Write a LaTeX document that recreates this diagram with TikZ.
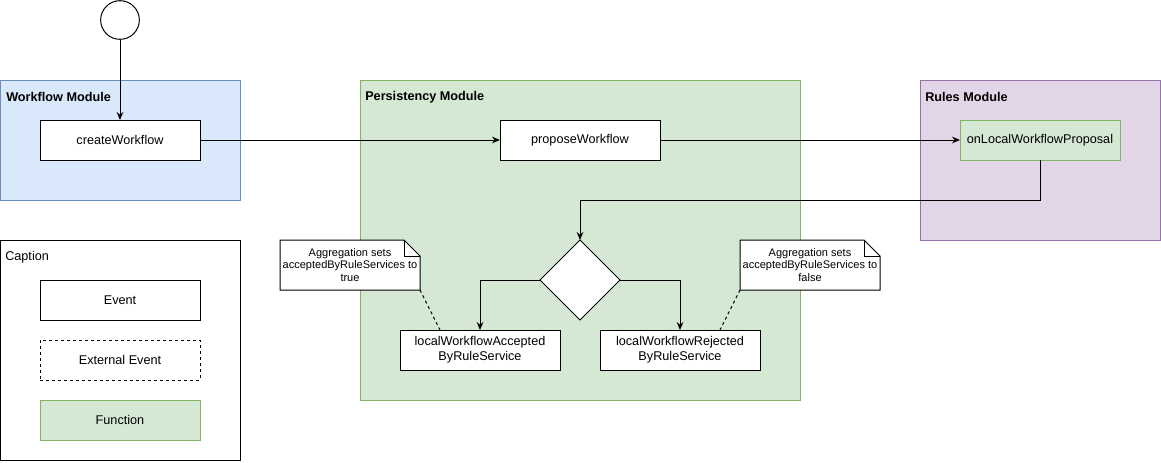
\documentclass[tikz,border=0pt]{standalone}
\usepackage{fontspec}
\setmainfont{Liberation Sans}
\usepackage{xcolor}
\usepackage{tikz}
\usetikzlibrary{shapes.geometric,arrows.meta,positioning}

\definecolor{wffill}{HTML}{DAE8FC}
\definecolor{wfline}{HTML}{6C8EBF}
\definecolor{psfill}{HTML}{D5E8D4}
\definecolor{psline}{HTML}{82B366}
\definecolor{rlfill}{HTML}{E1D5E7}
\definecolor{rlline}{HTML}{9673A6}

\begin{document}
\begin{tikzpicture}[
    x=0.75pt, y=-0.75pt,
    node distance=15pt,
    font=\fontsize{9.5}{11.5}\selectfont,
    event/.style={rectangle, draw, fill=white, line width=0.75pt, minimum width=120pt, minimum height=30pt, align=center, inner sep=0pt, outer sep=0pt},
    extevent/.style={event, dash pattern=on 2.25pt off 2.25pt},
    func/.style={event, draw=psline, fill=psfill},
    module/.style={draw, line width=0.75pt},
    title/.style={anchor=west, inner sep=0pt, font=\fontsize{9.5}{11.5}\selectfont\bfseries},
    decision/.style={diamond, draw, fill=white, line width=0.75pt, minimum width=60pt, minimum height=60pt, inner sep=0pt, outer sep=0pt},
    note/.style={draw, fill=white, line width=0.75pt},
    notetext/.style={minimum width=105pt, minimum height=37.5pt, inner sep=0pt, outer sep=0pt, align=center, font=\fontsize{8.25}{9.4}\selectfont},
    arrow/.style={-{Stealth[length=6pt,width=5pt,inset=2pt]}, line width=0.75pt},
    link/.style={dash pattern=on 2.25pt off 2.25pt, line width=0.75pt}
]
    \useasboundingbox (0,0) rectangle (1161,462);

    % Modules
    \draw[module, draw=wfline, fill=wffill] (0,80) rectangle (240,200);
    \draw[module, draw=psline, fill=psfill] (360,80) rectangle (800,400);
    \draw[module, draw=rlline, fill=rlfill] (920,80) rectangle (1160,240);
    \node[title] (wftitle) at (6,97) {Workflow Module};
    \node[title] (pstitle) at (365,97) {Persistency Module};
    \node[title] (rltitle) at (925,97) {Rules Module};

    % Flow
    \node[circle, draw, fill=white, line width=0.75pt, minimum size=29pt, inner sep=0pt] (start) at (120,20) {};
    \node[event] (create) at (120,140) {createWorkflow};
    \node[event] (propose) at (580,140) {proposeWorkflow};
    \node[func] (onlocal) at (1040,140) {onLocalWorkflowProposal};
    \node[decision] (decide) at (580,280) {};
    \node[event] (accepted) at (480,350) {localWorkflowAccepted\\ByRuleService};
    \node[event, right=30pt of accepted] (rejected) {localWorkflowRejected\\ByRuleService};

    \draw[arrow] (start) -- (create);
    \draw[arrow] (create) -- (propose);
    \draw[arrow] (propose) -- (onlocal);
    \draw[arrow] (onlocal.south) -- ++(0,40) -| (decide.north);
    \draw[arrow] (decide.west) -| (accepted.north);
    \draw[arrow] (decide.east) -| (rejected.north);

    % Notes
    \draw[note] (280,240) -- (404,240) -- (420,256) -- (420,290) -- (280,290) -- cycle;
    \draw[line width=0.75pt] (404,240) -- (404,256) -- (420,256);
    \node[notetext] (notetrue) at (350,265) {Aggregation sets\\acceptedByRuleServices to\\true};
    \draw[note] (740,240) -- (864,240) -- (880,256) -- (880,290) -- (740,290) -- cycle;
    \draw[line width=0.75pt] (864,240) -- (864,256) -- (880,256);
    \node[notetext] (notefalse) at (810,265) {Aggregation sets\\acceptedByRuleServices to\\false};

    \draw[link] (notetrue.south east) -- ([xshift=30pt]accepted.north west);
    \draw[link] (notefalse.south west) -- ([xshift=-30pt]rejected.north east);

    % Caption
    \draw[module] (0,240) rectangle (240,460);
    \node[anchor=west, inner sep=0pt] (captitle) at (5,257) {Caption};
    \node[event] (evt) at (120,300) {Event};
    \node[extevent, below=15pt of evt] (extevt) {External Event};
    \node[func, below=15pt of extevt] (fn) {Function};
\end{tikzpicture}
\end{document}
